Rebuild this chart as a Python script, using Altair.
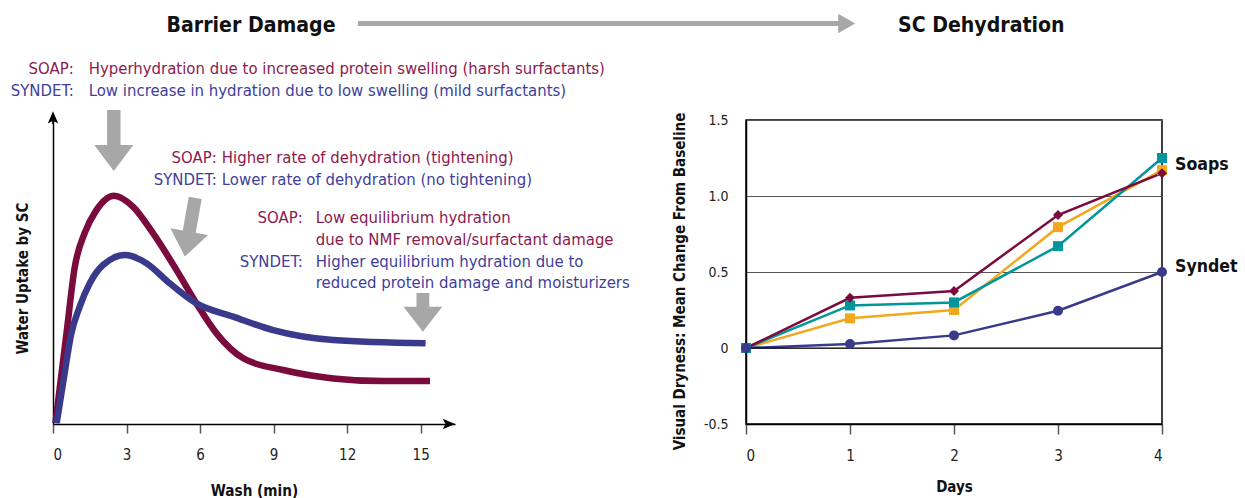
import altair as alt
import pandas as pd

FONT = "DejaVu Sans Condensed"
MAROON = "#7b0a3d"
NAVY = "#3a3a8c"
TXT_MAROON = "#8b1a4e"
TXT_NAVY = "#40409a"
TEAL = "#00969b"
ORANGE = "#f2a81d"
ARROW_GRAY = "#a7a7a7"

# ---------------- Left panel: water uptake by SC vs wash time ----------------
soap_min = [0.1, 0.55, 0.89, 1.29, 1.77, 2.49, 3.27, 4.08, 5.04, 5.85, 6.67, 7.76, 9.39, 11.43, 13.47, 15.38]
soap_val = [0.3, 30.2, 52.4, 63.6, 71.3, 76.1, 72.4, 63.6, 51.3, 40.2, 30.2, 21.9, 18.0, 15.2, 14.3, 14.3]
syn_min = [0.15, 0.41, 0.75, 1.09, 1.5, 2.04, 2.95, 3.81, 4.76, 5.85, 7.35, 8.98, 11.43, 15.2]
syn_val = [0.3, 13.6, 30.2, 39.1, 46.9, 53.0, 56.3, 53.6, 46.9, 40.2, 35.8, 31.3, 28.0, 26.9]
wash_ticks = [0, 3, 6, 9, 12, 15]

ann_labels = ["SOAP:", "SYNDET:", "SOAP:", "SYNDET:", "SOAP:", "SYNDET:"]
ann_label_group = ["SOAP", "SYNDET", "SOAP", "SYNDET", "SOAP", "SYNDET"]
ann_label_x = [0.845, 0.845, 6.68, 6.68, 10.19, 10.19]
ann_label_y = [118.2, 110.9, 88.5, 81.2, 68.7, 54.0]

ann_texts = [
    "Hyperhydration due to increased protein swelling (harsh surfactants)",
    "Low increase in hydration due to low swelling (mild surfactants)",
    "Higher rate of dehydration (tightening)",
    "Lower rate of dehydration (no tightening)",
    "Low equilibrium hydration",
    "due to NMF removal/surfactant damage",
    "Higher equilibrium hydration due to",
    "reduced protein damage and moisturizers",
]
ann_text_group = ["SOAP", "SYNDET", "SOAP", "SYNDET", "SOAP", "SOAP", "SYNDET", "SYNDET"]
ann_text_x = [1.457, 1.457, 6.886, 6.886, 10.72, 10.72, 10.72, 10.72]
ann_text_y = [118.2, 110.9, 88.5, 81.2, 68.7, 61.4, 54.0, 46.9]

# block arrows (position in wash-min / uptake units)
arrow_x = [2.48, 5.59, 15.09]
arrow_y = [94.5, 65.6, 37.2]

header_texts = ["Barrier Damage", "SC Dehydration"]
header_x = [8.08, 37.87]
header_y = [132.5, 132.5]
flow_y = 133.5
flow_start, flow_end, flow_head = 12.44, 32.1, 32.38

# ---------------- Right panel: visual dryness ----------------
days = [0, 1, 2, 3, 4]
soap_a = [0.0, 0.33, 0.375, 0.875, 1.15]
soap_b = [0.0, 0.28, 0.30, 0.67, 1.25]
soap_c = [0.0, 0.195, 0.25, 0.795, 1.17]
syndet = [0.0, 0.026, 0.083, 0.245, 0.50]
series_names = ["Soap C", "Soap B", "Soap A", "Syndet"]
series_colors = [ORANGE, TEAL, MAROON, NAVY]
series_shapes = ["square", "square", "diamond", "circle"]
end_labels = ["Soaps", "Syndet"]
end_label_y = [1.204, 0.533]
dry_ticks = [-0.5, 0, 0.5, 1.0, 1.5]

# ---------------- build left ----------------
curves = pd.DataFrame(
    {"series": ["SOAP"] * len(soap_min) + ["SYNDET"] * len(syn_min),
     "minute": soap_min + syn_min,
     "value": soap_val + syn_val}
)
xl = alt.X("minute:Q", scale=alt.Scale(domain=[0, 16.4], nice=False, zero=False),
           axis=alt.Axis(values=wash_ticks, title="Wash (min)", grid=False,
                         domainColor="black", domainWidth=1.5, tickColor="#555",
                         tickWidth=1.5, tickSize=9, labelFont=FONT, labelFontSize=15,
                         labelColor="#222", labelPadding=14, titleFont=FONT,
                         titleFontSize=15.2, titleFontWeight="bold", titleColor="#111",
                         titlePadding=21))
yl = alt.Y("value:Q", scale=alt.Scale(domain=[0, 101.33], nice=False, zero=False),
           axis=alt.Axis(title="Water Uptake by SC", grid=False, ticks=False, labels=False,
                         domainColor="black", domainWidth=1.5, titleFont=FONT,
                         titleFontSize=15, titleFontWeight="bold", titleColor="#111",
                         titlePadding=23, titleY=158))
col_l = alt.Color("series:N", scale=alt.Scale(domain=["SOAP", "SYNDET"], range=[MAROON, NAVY]), legend=None)

curve_layer = alt.Chart(curves).mark_line(strokeWidth=6.5, interpolate="monotone").encode(
    x=xl, y=yl, color=col_l, order="minute:Q")

arrows_df = pd.DataFrame({"minute": arrow_x, "value": arrow_y})
arrow_path_a = "M-0.22,-1L0.22,-1L0.22,0.15L0.64,0.15L0,1L-0.64,0.15L-0.22,0.15Z"
arrow_path_b = "M-0.33,-1L0.33,-1L0.33,-0.29L1,-0.29L0,1L-1,-0.29L-0.33,-0.29Z"
a1 = alt.Chart(arrows_df.iloc[[0]]).mark_point(shape=arrow_path_a, filled=True, size=3721,
                                              color=ARROW_GRAY, opacity=1).encode(x="minute:Q", y="value:Q")
a2 = alt.Chart(arrows_df.iloc[[1]]).mark_point(shape=arrow_path_a, filled=True, size=3564, angle=10,
                                              color=ARROW_GRAY, opacity=1).encode(x="minute:Q", y="value:Q")
a3 = alt.Chart(arrows_df.iloc[[2]]).mark_point(shape=arrow_path_b, filled=True, size=1498,
                                              color=ARROW_GRAY, opacity=1).encode(x="minute:Q", y="value:Q")

# axis arrow heads
axhead_x = alt.Chart(pd.DataFrame({"minute": [16.15], "value": [0]})).mark_point(
    shape="M1,0L-1,-0.85L-0.55,0L-1,0.85Z", filled=True, size=151, color="black", opacity=1
).encode(x="minute:Q", y="value:Q")
axhead_y = alt.Chart(pd.DataFrame({"minute": [0], "value": [102.2]})).mark_point(
    shape="M0,-1L0.85,1L0,0.55L-0.85,1Z", filled=True, size=151, color="black", opacity=1
).encode(x="minute:Q", y="value:Q")
axline_y = alt.Chart(pd.DataFrame({"minute": [0], "value": [100], "value2": [102]})).mark_rule(
    color="black", strokeWidth=1.5).encode(x="minute:Q", y="value:Q", y2="value2:Q")

lab_df = pd.DataFrame({"label": ann_labels, "series": ann_label_group, "minute": ann_label_x, "value": ann_label_y})
txt_df = pd.DataFrame({"label": ann_texts, "series": ann_text_group, "minute": ann_text_x, "value": ann_text_y})


def text_layer(df, group, color, align):
    return alt.Chart(df).transform_filter(alt.datum.series == group).mark_text(
        align=align, baseline="middle", font=FONT, fontSize=16.6, color=color
    ).encode(x="minute:Q", y="value:Q", text="label:N")


lab_soap = text_layer(lab_df, "SOAP", TXT_MAROON, "right")
lab_syn = text_layer(lab_df, "SYNDET", TXT_NAVY, "right")
txt_soap = text_layer(txt_df, "SOAP", TXT_MAROON, "left")
txt_syn = text_layer(txt_df, "SYNDET", TXT_NAVY, "left")

head_df = pd.DataFrame({"label": header_texts, "minute": header_x, "value": header_y})
head_layer = alt.Chart(head_df).mark_text(align="center", baseline="middle", font=FONT, fontSize=21.1,
                                          fontWeight="bold", color="#111").encode(
    x="minute:Q", y="value:Q", text="label:N")
flow_df = pd.DataFrame({"minute": [flow_start], "minute2": [flow_end], "value": [flow_y]})
flow_line = alt.Chart(flow_df).mark_rule(color=ARROW_GRAY, strokeWidth=5).encode(
    x="minute:Q", x2="minute2:Q", y="value:Q")
flow_head = alt.Chart(pd.DataFrame({"minute": [flow_head], "value": [flow_y]})).mark_point(
    shape="M1,0L-1,-1.15L-1,1.15Z", filled=True, size=289, color=ARROW_GRAY, opacity=1
).encode(x="minute:Q", y="value:Q")

left = alt.layer(curve_layer, a1, a2, a3, axline_y, axhead_x, axhead_y,
                 lab_soap, lab_syn, txt_soap, txt_syn,
                 flow_line, flow_head, head_layer).properties(
    width=402, height=304, view=alt.ViewBackground(stroke="transparent"))

# ---------------- build right ----------------
vals = [soap_c, soap_b, soap_a, syndet]
rows = []
for name, v in zip(series_names, vals):
    for d, y in zip(days, v):
        rows.append({"product": name, "day": d, "dryness": y})
dry = pd.DataFrame(rows)

xr = alt.X("day:Q", scale=alt.Scale(domain=[0, 4], nice=False, zero=False),
           axis=alt.Axis(values=days, title="Days", grid=False, format="d",
                         domainColor="black", domainWidth=1.5, tickColor="#555",
                         tickWidth=1.5, tickSize=10, labelFont=FONT, labelFontSize=15,
                         labelColor="#222", labelPadding=14, titleFont=FONT,
                         titleFontSize=15, titleFontWeight="bold", titleColor="#111",
                         titlePadding=16))
yr = alt.Y("dryness:Q", scale=alt.Scale(domain=[-0.5, 1.5], nice=False, zero=False),
           axis=alt.Axis(values=dry_ticks, title="Visual Dryness: Mean Change From Baseline",
                         grid=True, gridColor="#555", gridWidth=1, ticks=False,
                         domainColor="black", domainWidth=1.5,
                         labelExpr="datum.value == 0 ? '0' : (datum.value < 0 ? '-' + format(-datum.value, '.1f') : format(datum.value, '.1f'))",
                         labelFont=FONT, labelFontSize=14, labelColor="#222", labelPadding=18,
                         titleFont=FONT, titleFontSize=15, titleFontWeight="bold",
                         titleColor="#111", titlePadding=16, titleY=161))
col_r = alt.Color("product:N", scale=alt.Scale(domain=series_names, range=series_colors), legend=None)
shp_r = alt.Shape("product:N", scale=alt.Scale(domain=series_names, range=series_shapes), legend=None)

zero_rule = alt.Chart(pd.DataFrame({"dryness": [0]})).mark_rule(color="black", strokeWidth=1.2).encode(
    y=alt.Y("dryness:Q"))
lines_r = alt.Chart(dry).mark_line(strokeWidth=2.5).encode(x=xr, y=yr, color=col_r, detail="product:N")
points_r = alt.Chart(dry).mark_point(filled=True, opacity=1, size=100).encode(
    x="day:Q", y="dryness:Q", color=col_r, shape=shp_r)
endlab_df = pd.DataFrame({"label": end_labels, "day": [4, 4], "dryness": end_label_y})
endlab = alt.Chart(endlab_df).mark_text(align="left", baseline="middle", dx=13, font=FONT,
                                        fontSize=17.6, fontWeight="bold", color="#111").encode(
    x="day:Q", y="dryness:Q", text="label:N")

right = alt.layer(lines_r, zero_rule, points_r, endlab).properties(
    width=416, height=304, view=alt.ViewBackground(stroke="black", strokeWidth=1.5))

chart = alt.hconcat(left, right, spacing=291, bounds="flush").properties(
    padding={"left": 10, "top": 13, "right": 5, "bottom": 5}
).resolve_scale(color="independent", shape="independent").configure_view(stroke="transparent")

chart.save("out.html", embed_options={"renderer": "svg", "actions": False})
